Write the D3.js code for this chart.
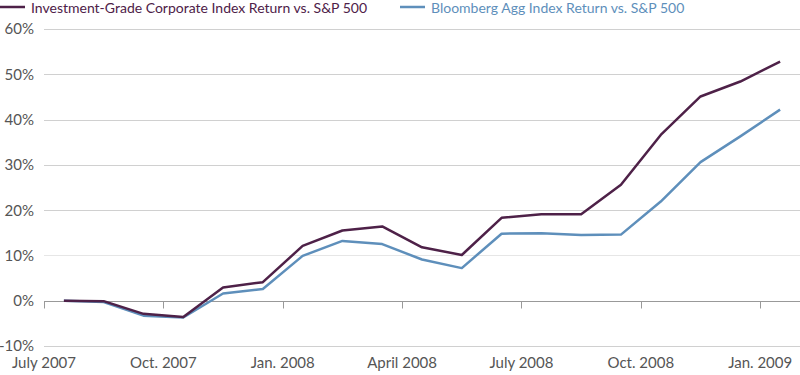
<!DOCTYPE html>
<html>
<head>
<meta charset="utf-8">
<script src="https://cdn.jsdelivr.net/npm/d3@7"></script>
<style>
  body { margin: 0; background: #fff; }
  svg text { font-family: Lato, "Open Sans", sans-serif; }
</style>
</head>
<body>
<svg id="chart"></svg>
<script>
// months Jul 2007 .. Jan 2009
const months = ["2007-07","2007-08","2007-09","2007-10","2007-11","2007-12",
  "2008-01","2008-02","2008-03","2008-04","2008-05","2008-06",
  "2008-07","2008-08","2008-09","2008-10","2008-11","2008-12","2009-01"];
const tickLabels = ["July 2007","Oct. 2007","Jan. 2008","April 2008","July 2008","Oct. 2008","Jan. 2009"];
const corporate = [0, -0.1, -2.9, -3.6, 2.9, 4.1, 12.1, 15.5, 16.4, 11.8, 10.1, 18.3, 19.1, 19.1, 25.6, 36.6, 45.1, 48.4, 52.8];
const agg = [0, -0.3, -3.3, -3.7, 1.6, 2.6, 9.9, 13.2, 12.5, 9.1, 7.2, 14.8, 14.9, 14.5, 14.6, 21.9, 30.6, 36.3, 42.2];
const yTicks = [-10, 0, 10, 20, 30, 40, 50, 60];
const seriesNames = ["Investment-Grade Corporate Index Return vs. S&P 500", "Bloomberg Agg Index Return vs. S&P 500"];
const colors = ["#4e2148", "#5e8fbb"];

const width = 800, height = 375;
const margin = { top: 29, right: 0, bottom: 29, left: 44 };

const svg = d3.select('#chart')
    .attr('width', width)
    .attr('height', height);

const x = d3.scaleBand()
    .domain(months)
    .range([margin.left, width - margin.right]);

const y = d3.scaleLinear()
    .domain([-10, 60])
    .range([346, 29]);

// gridlines
svg.append('g')
    .selectAll('line')
    .data(yTicks.filter(d => d !== 0))
    .join('line')
    .attr('x1', margin.left)
    .attr('x2', width)
    .attr('y1', d => Math.round(y(d)) + 0.5)
    .attr('y2', d => Math.round(y(d)) + 0.5)
    .attr('stroke', d => d === 10 ? '#e6e6e6' : '#d0d0d0')
    .attr('stroke-width', 1);

// y labels
svg.append('g')
    .selectAll('text')
    .data(yTicks)
    .join('text')
    .attr('x', 34)
    .attr('y', d => y(d))
    .attr('dy', '0.36em')
    .attr('text-anchor', 'end')
    .attr('fill', '#555')
    .style('font-size', '15px')
    .text(d => d + '%');

// zero axis with ticks at every 3rd month
const y0 = Math.round(y(0)) + 0.5;
svg.append('line')
    .attr('x1', margin.left).attr('x2', width)
    .attr('y1', y0).attr('y2', y0)
    .attr('stroke', '#999');

const tickMonths = months.filter((d, i) => i % 3 === 0);
svg.append('g')
    .selectAll('line')
    .data(tickMonths)
    .join('line')
    .attr('x1', d => Math.round(x(d)) + 0.5)
    .attr('x2', d => Math.round(x(d)) + 0.5)
    .attr('y1', y0)
    .attr('y2', y0 + 7)
    .attr('stroke', '#999');

svg.append('g')
    .selectAll('text')
    .data(tickMonths)
    .join('text')
    .attr('x', d => x(d))
    .attr('y', 368)
    .attr('text-anchor', 'middle')
    .attr('fill', '#555')
    .style('font-size', '15px')
    .text((d, i) => tickLabels[i]);

// lines
const line = d3.line()
    .x((d, i) => x(months[i]) + x.bandwidth() / 2)
    .y(d => y(d));

[agg, corporate].forEach((s, k) => {
    svg.append('path')
        .datum(s)
        .attr('fill', 'none')
        .attr('stroke', k === 0 ? colors[1] : colors[0])
        .attr('stroke-width', 2.5)
        .attr('stroke-linejoin', 'round')
        .attr('d', line);
});

// legend
const legendX = [0, 400];
seriesNames.forEach((name, i) => {
    const g = svg.append('g').attr('transform', `translate(${legendX[i]},8)`);
    g.append('line')
        .attr('x1', 0).attr('x2', 25)
        .attr('y1', -1).attr('y2', -1)
        .attr('stroke', colors[i])
        .attr('stroke-width', 2.5);
    g.append('text')
        .attr('x', 31)
        .attr('y', 0)
        .attr('dy', '0.35em')
        .attr('fill', colors[i])
        .style('font-size', '14px')
        .text(name);
});
</script>
</body>
</html>
